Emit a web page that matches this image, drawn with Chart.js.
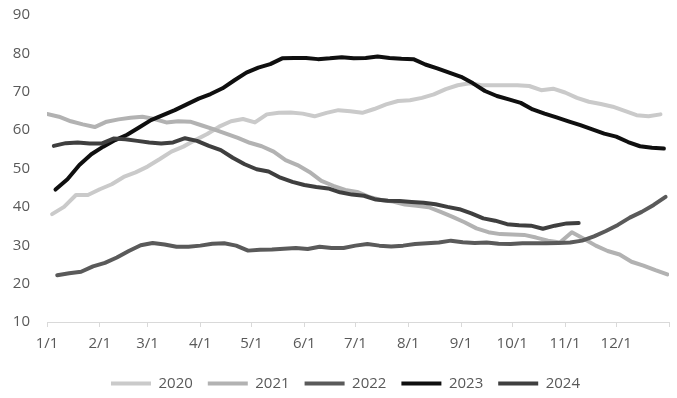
<!DOCTYPE html>
<html>
<head>
<meta charset="utf-8">
<script src="https://cdn.jsdelivr.net/npm/chart.js@4.4.1/dist/chart.umd.min.js"></script>
<style>
  html, body { margin: 0; padding: 0; background: #fff; }
</style>
</head>
<body>
<canvas id="chart" width="677" height="398"></canvas>
<script>
// weekly readings, x = day of year
const seriesNames = ['2020', '2021', '2022', '2023', '2024'];
const seriesColors = ['#cacaca', '#b2b2b2', '#5a5a5a', '#0f0f0f', '#3f3f3f'];
const startDays = [3, 0, 6, 5, 4];

const values2020 = [38.1, 40.0, 43.1, 43.1, 44.6, 45.9, 47.8, 49.0, 50.5, 52.4, 54.4, 55.7, 57.4,
  59.0, 60.9, 62.3, 62.9, 62.0, 64.1, 64.5, 64.6, 64.3, 63.6, 64.5, 65.2, 64.9,
  64.5, 65.5, 66.7, 67.6, 67.8, 68.4, 69.3, 70.7, 71.7, 72.2, 71.7, 71.7, 71.7,
  71.7, 71.5, 70.4, 70.8, 69.8, 68.4, 67.4, 66.8, 66.1, 65.0, 63.9, 63.6, 64.1];
const values2021 = [64.2, 63.5, 62.3, 61.5, 60.8, 62.2, 62.8, 63.2, 63.5, 62.9, 62.0, 62.3, 62.2, 61.2,
  60.2, 59.1, 58.0, 56.7, 55.8, 54.4, 52.2, 50.9, 49.1, 46.8, 45.5, 44.4, 43.9,
  42.6, 41.8, 41.4, 40.6, 40.3, 39.9, 38.7, 37.4, 36.0, 34.4, 33.4, 32.9, 32.8,
  32.7, 32.0, 31.2, 30.7, 33.4, 31.7, 29.9, 28.5, 27.6, 25.7, 24.7, 23.5, 22.4];
const values2022 = [22.2, 22.7, 23.1, 24.5, 25.4, 26.8, 28.5, 30.0, 30.6, 30.2, 29.6, 29.6, 29.9,
  30.4, 30.5, 29.9, 28.6, 28.8, 28.9, 29.1, 29.3, 29.0, 29.6, 29.3, 29.3, 29.9,
  30.3, 29.9, 29.7, 29.9, 30.3, 30.5, 30.7, 31.2, 30.8, 30.6, 30.7, 30.4, 30.3,
  30.5, 30.5, 30.5, 30.6, 30.7, 31.2, 32.3, 33.7, 35.3, 37.2, 38.7, 40.5, 42.6];
const values2023 = [44.5, 47.2, 50.9, 53.7, 55.7, 57.4, 58.8, 60.7, 62.6, 63.9, 65.2, 66.7, 68.2,
  69.4, 70.9, 73.0, 75.0, 76.3, 77.2, 78.7, 78.8, 78.8, 78.5, 78.7, 79.0, 78.7,
  78.8, 79.2, 78.8, 78.6, 78.5, 77.1, 76.1, 75.0, 73.9, 72.2, 70.2, 68.9, 68.0,
  67.1, 65.4, 64.3, 63.3, 62.3, 61.3, 60.2, 59.1, 58.3, 56.9, 55.8, 55.4, 55.2];
const values2024 = [55.9, 56.6, 56.8, 56.5, 56.5, 57.8, 57.6, 57.2, 56.8, 56.5, 56.8, 57.9, 57.2,
  55.9, 54.8, 52.8, 51.1, 49.8, 49.2, 47.6, 46.5, 45.7, 45.2, 44.8, 43.8, 43.2,
  42.9, 41.9, 41.6, 41.5, 41.3, 41.1, 40.7, 40.0, 39.4, 38.3, 37.0, 36.4, 35.5,
  35.2, 35.1, 34.3, 35.1, 35.7, 35.8];
const allValues = [values2020, values2021, values2022, values2023, values2024];

const monthDays = [0, 31, 59, 90, 120, 151, 181, 212, 243, 273, 304, 334, 365];
const monthLabels = ['1/1', '2/1', '3/1', '4/1', '5/1', '6/1', '7/1', '8/1', '9/1', '10/1', '11/1', '12/1', ''];

Chart.defaults.font.family = "'Open Sans', sans-serif";
Chart.defaults.font.size = 15;
Chart.defaults.color = '#595959';

const datasets = seriesNames.map((name, i) => ({
  label: name,
  data: allValues[i].map((v, k) => ({ x: startDays[i] + 7 * k, y: v })),
  borderColor: seriesColors[i],
  backgroundColor: seriesColors[i],
  borderWidth: 4,
  pointRadius: 0,
  tension: 0,
  borderJoinStyle: 'round',
  borderCapStyle: 'round',
  order: seriesNames.length - i
}));

// nudge the legend a bit right, like the original
const legendShift = {
  id: 'legendShift',
  afterLayout(chart) {
    chart.legend.left += 11;
    chart.legend.right += 11;
  }
};

new Chart(document.getElementById('chart'), {
  type: 'line',
  data: { datasets },
  plugins: [legendShift],
  options: {
    responsive: false,
    devicePixelRatio: 1,
    animation: false,
    layout: { padding: { top: 15, right: 8, bottom: -3, left: 0 } },
    plugins: {
      legend: {
        position: 'bottom',
        labels: {
          usePointStyle: true,
          pointStyle: 'line',
          pointStyleWidth: 40,
          padding: 15,
          color: '#595959',
          sort: (a, b) => a.datasetIndex - b.datasetIndex
        }
      },
      tooltip: { enabled: false }
    },
    scales: {
      x: {
        type: 'linear',
        min: 0,
        max: 365,
        afterBuildTicks: s => { s.ticks = monthDays.map(v => ({ value: v })); },
        afterFit: s => { s.height = 39; },
        ticks: {
          autoSkip: false,
          maxRotation: 0,
          padding: 8,
          callback: (v, i) => monthLabels[i]
        },
        grid: { drawOnChartArea: false, tickLength: 5, color: '#d9d9d9' },
        border: { color: '#d9d9d9' }
      },
      y: {
        min: 10,
        max: 90,
        afterFit: s => { s.width = 47; s.paddingTop = 0; s.paddingBottom = 0; },
        ticks: { stepSize: 10, padding: 17 },
        grid: { display: false, drawTicks: false },
        border: { display: false }
      }
    }
  }
});
</script>
</body>
</html>
